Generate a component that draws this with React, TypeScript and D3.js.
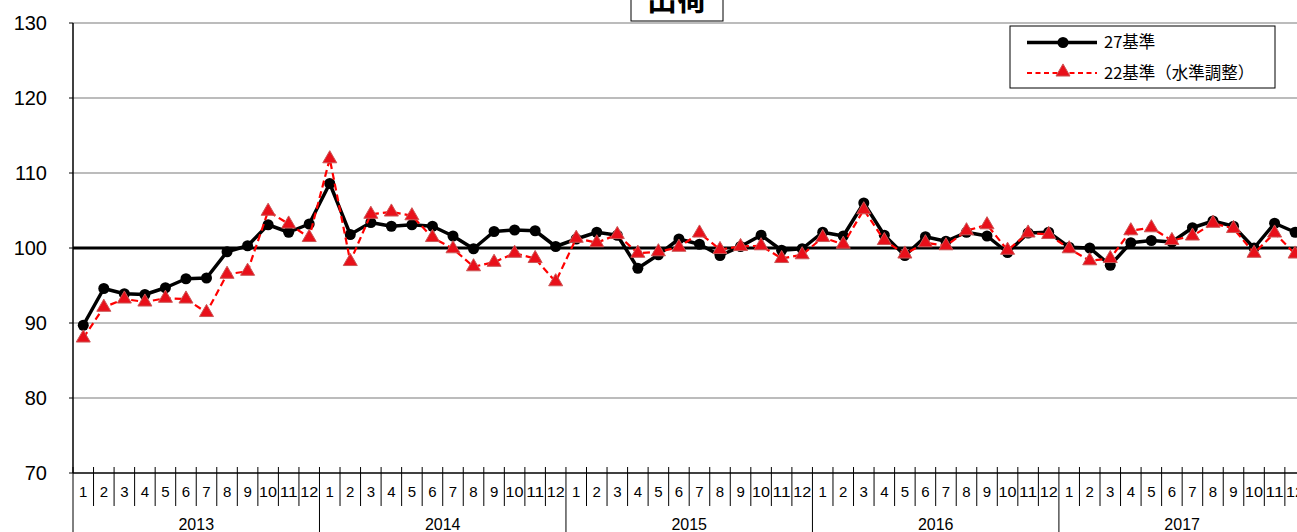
import React from 'react';
import * as d3 from 'd3';

// 出荷 指数（月次）
const years = ['2013', '2014', '2015', '2016', '2017'];
const monthLabels = ['1', '2', '3', '4', '5', '6', '7', '8', '9', '10', '11', '12'];
const yTicks = [70, 80, 90, 100, 110, 120, 130];

const base27 = [
  89.7, 94.6, 93.9, 93.8, 94.7, 95.9, 96.0, 99.5, 100.3, 103.1, 102.1, 103.2,
  108.6, 101.8, 103.4, 102.9, 103.1, 102.9, 101.6, 99.9, 102.2, 102.4, 102.3, 100.2,
  101.2, 102.1, 101.7, 97.3, 99.1, 101.2, 100.5, 99.0, 100.2, 101.7, 99.7, 99.9,
  102.1, 101.6, 106.0, 101.7, 99.0, 101.5, 100.9, 102.1, 101.6, 99.4, 102.0, 102.1,
  100.1, 100.0, 97.7, 100.7, 101.0, 100.8, 102.7, 103.6, 102.9, 100.0, 103.3, 102.1,
];

const base22 = [
  88.0, 92.1, 93.2, 92.8, 93.3, 93.2, 91.4, 96.5, 96.9, 104.9, 103.2, 101.4,
  111.9, 98.2, 104.5, 104.8, 104.3, 101.4, 99.9, 97.5, 98.1, 99.3, 98.6, 95.5,
  101.3, 100.7, 101.8, 99.3, 99.5, 100.1, 102.0, 99.8, 100.2, 100.3, 98.6, 99.1,
  101.4, 100.5, 105.1, 101.0, 99.2, 100.7, 100.3, 102.3, 103.1, 99.7, 102.0, 101.8,
  99.9, 98.3, 98.6, 102.3, 102.7, 101.0, 101.6, 103.3, 102.6, 99.3, 102.0, 99.2,
];

const legendNames = ['27基準', '22基準（水準調整）'];

const W = 1297;
const H = 532;
const left = 73;
const monthW = 20.54;
const top = 23;
const bottom = 473;

const App: React.FC = () => {
  const months = years.flatMap((y) => monthLabels.map((m) => `${y}-${m}`));

  const x = d3.scaleBand<string>()
    .domain(months)
    .range([left, left + monthW * months.length]);
  const y = d3.scaleLinear().domain([70, 130]).range([bottom, top]);
  const cx = (i: number) => (x(months[i]) as number) + x.bandwidth() / 2;

  const line = d3.line<number>()
    .x((_, i) => cx(i))
    .y((d) => y(d));

  const tri = d3.symbol().type(d3.symbolTriangle).size(85)();
  const right = left + monthW * months.length;
  const font = '"Liberation Sans", Arial, sans-serif';
  const jp = '"Noto Sans CJK JP", sans-serif';

  return (
    <div>
      <style>{`body{margin:0;overflow:hidden}`}</style>
      <svg width={W} height={H} style={{ display: 'block', background: '#fff' }}>
        {/* grid */}
        {yTicks.map((t) => (
          <g key={t}>
            {t !== 70 && t !== 100 && (
              <line x1={left} x2={right} y1={y(t)} y2={y(t)} stroke="#7a7a7a" strokeWidth={1.2} />
            )}
            <line x1={left - 4} x2={left} y1={y(t)} y2={y(t)} stroke="#000" strokeWidth={1} />
            <text x={47} y={y(t)} dy="0.36em" textAnchor="end" fontSize={20} fontFamily={font}>
              {t}
            </text>
          </g>
        ))}

        {/* title box */}
        <rect x={631} y={-10} width={92} height={31} fill="#fff" stroke="#000" strokeWidth={1} />
        <text x={677} y={10} textAnchor="middle" fontSize={30} fontWeight="bold" fontFamily={jp}>
          出荷
        </text>

        {/* 100 line */}
        <line x1={left} x2={right} y1={y(100)} y2={y(100)} stroke="#000" strokeWidth={3} />

        {/* axes */}
        <line x1={left} x2={left} y1={top} y2={bottom} stroke="#000" strokeWidth={1.5} />
        <line x1={left} x2={right} y1={bottom} y2={bottom} stroke="#000" strokeWidth={1.5} />

        {/* month cells */}
        {months.map((m, i) => {
          const x0 = x(m) as number;
          const label = monthLabels[i % 12];
          const yearStart = i % 12 === 0;
          return (
            <g key={m}>
              <line x1={x0} x2={x0} y1={bottom - 6} y2={yearStart ? H : 506} stroke="#000" strokeWidth={1} />
              <text
                x={cx(i)}
                y={497}
                textAnchor="middle"
                fontSize={15}
                fontFamily={font}
                {...(label.length > 1 ? { textLength: 18, lengthAdjust: 'spacingAndGlyphs' } : {})}
              >
                {label}
              </text>
            </g>
          );
        })}
        {years.map((yr, k) => (
          <text
            key={yr}
            x={left + monthW * (k * 12 + 6)}
            y={530}
            textAnchor="middle"
            fontSize={16}
            fontFamily={font}
          >
            {yr}
          </text>
        ))}

        {/* 27基準 */}
        <path d={line(base27) ?? ''} fill="none" stroke="#000" strokeWidth={3.5} strokeLinejoin="round" />
        {base27.map((v, i) => (
          <circle key={i} cx={cx(i)} cy={y(v)} r={5.5} fill="#000" />
        ))}

        {/* 22基準 */}
        <path d={line(base22) ?? ''} fill="none" stroke="#ff0000" strokeWidth={2.2} strokeDasharray="7,4" />
        {base22.map((v, i) => (
          <path
            key={i}
            d={tri ?? ''}
            transform={`translate(${cx(i)},${y(v)})`}
            fill="#e8101a"
            stroke="#c55"
            strokeWidth={1}
          />
        ))}

        {/* legend */}
        <g transform="translate(1010,26)">
          <rect x={0} y={0} width={265} height={62} fill="#fff" stroke="#000" strokeWidth={1} />
          <line x1={17} x2={87} y1={16.5} y2={16.5} stroke="#000" strokeWidth={3.5} />
          <circle cx={53} cy={16.5} r={5.5} fill="#000" />
          <text x={94} y={16.5} dy="0.36em" fontSize={16.5} fontFamily={jp}>
            {legendNames[0]}
          </text>
          <line x1={17} x2={87} y1={47} y2={47} stroke="#ff0000" strokeWidth={2} strokeDasharray="5,3.5" />
          <path d={tri ?? ''} transform="translate(53,46)" fill="#e8101a" stroke="#c55" strokeWidth={1} />
          <text x={94} y={47} dy="0.36em" fontSize={16.5} fontFamily={jp}>
            {legendNames[1]}
          </text>
        </g>
      </svg>
    </div>
  );
};

export default App;
